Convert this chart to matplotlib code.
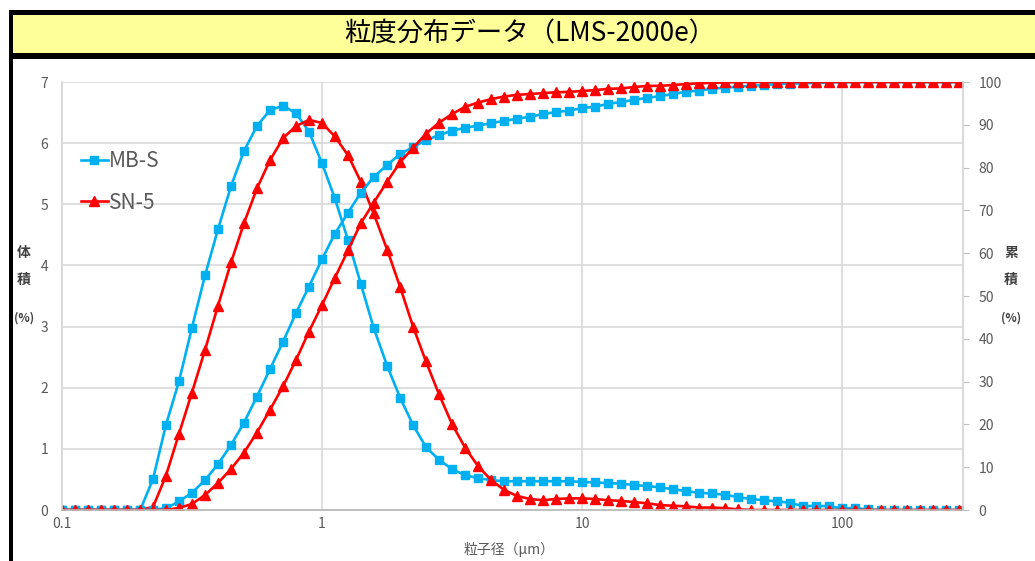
import matplotlib
matplotlib.use('Agg')
import matplotlib.pyplot as plt
from matplotlib.patches import Rectangle
from matplotlib.ticker import FixedLocator, FixedFormatter, NullLocator

plt.rcParams['font.family'] = ['Noto Sans CJK JP', 'DejaVu Sans']

# 粒子径 (µm) - LMS-2000e のチャンネル
size_um = [0.100, 0.112, 0.126, 0.141, 0.158, 0.178, 0.200, 0.224, 0.251, 0.282,
           0.316, 0.355, 0.398, 0.447, 0.501, 0.562, 0.631, 0.708, 0.794, 0.891,
           1.00, 1.12, 1.26, 1.41, 1.58, 1.78, 2.00, 2.24, 2.51, 2.82,
           3.16, 3.55, 3.98, 4.47, 5.01, 5.62, 6.31, 7.08, 7.94, 8.91,
           10.0, 11.2, 12.6, 14.1, 15.8, 17.8, 20.0, 22.4, 25.1, 28.2,
           31.6, 35.5, 39.8, 44.7, 50.1, 56.2, 63.1, 70.8, 79.4, 89.1,
           100, 112, 126, 141, 158, 178, 200, 224, 251, 282]

# 体積 (%) - 頻度
mbs_freq = [0, 0, 0, 0, 0, 0, 0, 0.51, 1.39, 2.11,
            2.98, 3.84, 4.59, 5.30, 5.87, 6.28, 6.54, 6.61, 6.49, 6.19,
            5.67, 5.10, 4.41, 3.70, 2.98, 2.36, 1.83, 1.39, 1.03, 0.82,
            0.67, 0.57, 0.52, 0.49, 0.47, 0.47, 0.47, 0.47, 0.47, 0.47,
            0.46, 0.45, 0.44, 0.43, 0.41, 0.39, 0.37, 0.34, 0.31, 0.28,
            0.27, 0.25, 0.21, 0.18, 0.16, 0.14, 0.12, 0.06, 0.07, 0.06,
            0.03, 0.03, 0.01, 0, 0, 0, 0, 0, 0, 0]
sn5_freq = [0, 0, 0, 0, 0, 0, 0, 0.05, 0.56, 1.25,
            1.92, 2.62, 3.34, 4.05, 4.69, 5.26, 5.72, 6.08, 6.28, 6.38,
            6.33, 6.11, 5.80, 5.37, 4.85, 4.26, 3.64, 3.00, 2.43, 1.89,
            1.41, 1.02, 0.72, 0.49, 0.33, 0.23, 0.18, 0.16, 0.18, 0.19,
            0.19, 0.18, 0.16, 0.15, 0.13, 0.11, 0.08, 0.07, 0.06, 0.04,
            0.04, 0.03, 0.01, 0, 0, 0, 0, 0, 0, 0,
            0, 0, 0, 0, 0, 0, 0, 0, 0, 0]

# 累積 (%)
mbs_cum = [0, 0, 0, 0, 0, 0, 0, 0.1, 0.4, 2.0,
           4.0, 7.0, 10.7, 15.2, 20.4, 26.5, 32.9, 39.3, 46.0, 52.2,
           58.6, 64.5, 69.5, 74.1, 77.8, 80.6, 83.2, 84.8, 86.4, 87.6,
           88.6, 89.3, 89.8, 90.4, 90.9, 91.4, 91.9, 92.5, 93.0, 93.3,
           93.9, 94.2, 94.9, 95.3, 95.8, 96.3, 96.7, 97.2, 97.7, 98.0,
           98.4, 98.7, 98.9, 99.1, 99.3, 99.5, 99.6, 99.7, 99.8, 99.9,
           100, 100, 100, 100, 100, 100, 100, 100, 100, 100]
sn5_cum = [0, 0, 0, 0, 0, 0, 0, 0, 0, 0.5,
           1.4, 3.5, 6.3, 9.6, 13.4, 18.1, 23.4, 28.9, 35.0, 41.7,
           47.9, 54.2, 60.7, 67.0, 71.8, 76.7, 81.3, 84.6, 87.9, 90.5,
           92.5, 94.2, 95.2, 96.0, 96.6, 97.0, 97.2, 97.4, 97.6, 97.7,
           97.9, 98.1, 98.4, 98.5, 98.8, 99.1, 99.1, 99.3, 99.5, 99.7,
           99.8, 99.9, 100, 100, 100, 100, 100, 100, 100, 100,
           100, 100, 100, 100, 100, 100, 100, 100, 100, 100]

BLUE = '#00B0F0'
RED = '#FF0000'
GRID = '#D9D9D9'
TXT = '#595959'

W, H = 1035, 561
fig = plt.figure(figsize=(W / 100, H / 100), dpi=100)

# タイトルバー(黒枠 + 黄色)
fig.patches.append(Rectangle((9 / W, 1 - 59 / H), 1, 49 / H, transform=fig.transFigure,
                             facecolor='black', edgecolor='none', zorder=0))
fig.patches.append(Rectangle((13 / W, 1 - 53 / H), 1, 38 / H, transform=fig.transFigure,
                             facecolor='#FFFF99', edgecolor='none', zorder=1))
fig.patches.append(Rectangle((9 / W, 0), 4 / W, 1 - 10 / H, transform=fig.transFigure,
                             facecolor='black', edgecolor='none', zorder=1))
fig.text(530 / W, 1 - 34 / H, '粒度分布データ（LMS-2000e）', ha='center', va='center',
         fontsize=19, color='black')

ax = fig.add_axes([62 / W, 1 - 510 / H, (963 - 62) / W, (510 - 82) / H])
ax2 = ax.twinx()

ax.plot(size_um, mbs_freq, color=BLUE, lw=1.9, marker='s', ms=5.5, label='MB-S', zorder=3)
ax.plot(size_um, sn5_freq, color=RED, lw=1.9, marker='^', ms=6.5, label='SN-5', zorder=3)
ax2.plot(size_um, mbs_cum, color=BLUE, lw=1.9, marker='s', ms=5.5)
ax2.plot(size_um, sn5_cum, color=RED, lw=1.9, marker='^', ms=6.5)

ax.set_xscale('log')
ax.set_xlim(0.1, 292)
ax.set_ylim(0, 7)
ax2.set_ylim(0, 100)

ax.xaxis.set_major_locator(FixedLocator([0.1, 1, 10, 100]))
ax.xaxis.set_major_formatter(FixedFormatter(['0.1', '1', '10', '100']))
ax.xaxis.set_minor_locator(NullLocator())
ax.set_yticks(range(0, 8))
ax2.set_yticks(range(0, 101, 10))

ax.grid(True, color=GRID, lw=1.2)
ax.set_axisbelow(True)
ax.tick_params(axis='both', length=0, labelsize=10, labelcolor=TXT)
ax.tick_params(axis='y', pad=10)
ax.tick_params(axis='x', pad=5)
ax2.tick_params(axis='y', length=4, color='#BFBFBF', labelsize=10, labelcolor=TXT, pad=7)

for a in (ax, ax2):
    a.spines['top'].set_visible(False)
    a.spines['left'].set_color(GRID)
    a.spines['right'].set_color(GRID)
    a.spines['bottom'].set_color('#BFBFBF')
    for s in a.spines.values():
        s.set_linewidth(1.2)

leg = ax.legend(loc='upper left', bbox_to_anchor=(0.0, 0.885), frameon=False,
                fontsize=15, handlelength=1.3, handletextpad=0.05, labelspacing=0.95)
for t in leg.get_texts():
    t.set_color(TXT)

# 軸ラベル
fig.text(509 / W, 1 - 549 / H, '粒子径（μm）', ha='center', va='center', fontsize=10, color=TXT)
for label, x in (('体', 24), ('累', 1011)):
    fig.text(x / W, 1 - 253 / H, label, ha='center', va='center', fontsize=10,
             fontweight='bold', color='#404040')
    fig.text(x / W, 1 - 280 / H, '積', ha='center', va='center', fontsize=10,
             fontweight='bold', color='#404040')
    fig.text(x / W, 1 - 318 / H, '(%)', ha='center', va='center', fontsize=8.5,
             fontweight='bold', color='#404040')

fig.savefig('out.png', dpi=100)
